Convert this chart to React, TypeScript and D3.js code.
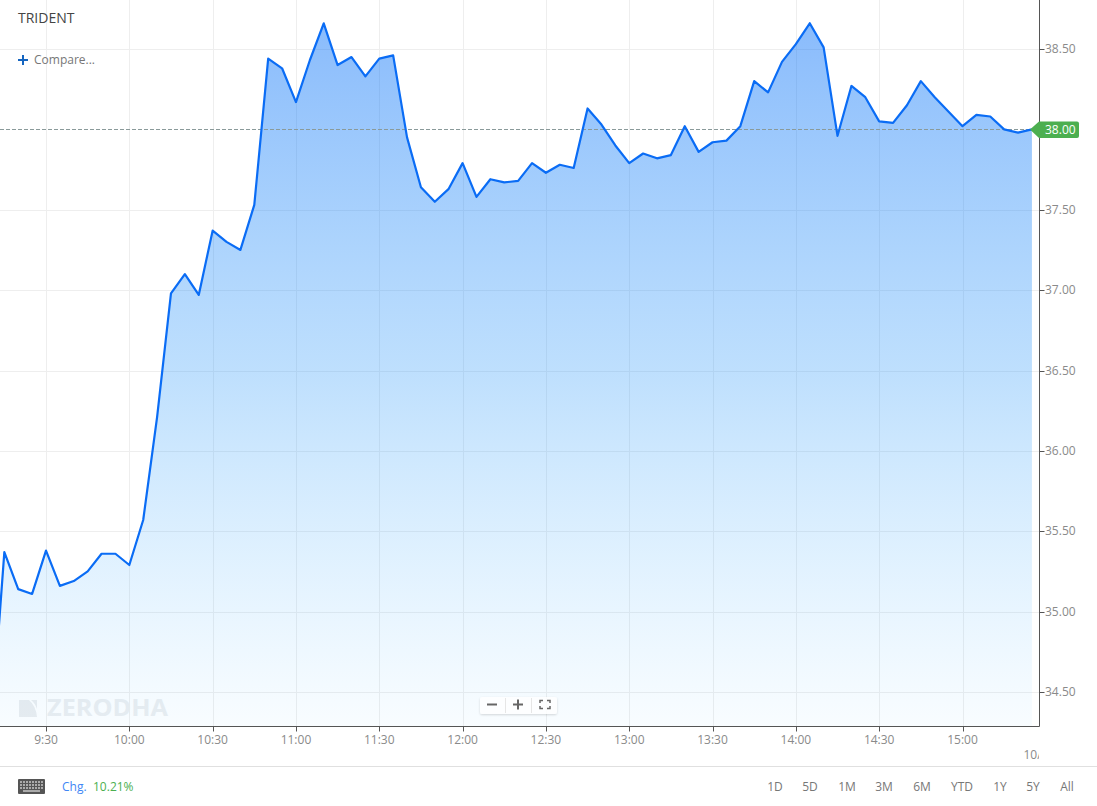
import React from "react";
import * as d3 from "d3";

const symbol = "TRIDENT";
const startMinute = 9 * 60 + 10; // first candle sits just off the left edge
const stepMinutes = 5;
const prices = [
  34.2, 35.37, 35.14, 35.11, 35.38, 35.16, 35.19, 35.25, 35.36, 35.36, 35.29,
  35.57, 36.21, 36.98, 37.1, 36.97, 37.37, 37.3, 37.25, 37.53, 38.44, 38.38,
  38.17, 38.43, 38.66, 38.4, 38.45, 38.33, 38.44, 38.46, 37.95, 37.64, 37.55,
  37.63, 37.79, 37.58, 37.69, 37.67, 37.68, 37.79, 37.73, 37.78, 37.76, 38.13,
  38.03, 37.9, 37.79, 37.85, 37.82, 37.84, 38.02, 37.86, 37.92, 37.93, 38.02,
  38.3, 38.23, 38.42, 38.53, 38.66, 38.51, 37.96, 38.27, 38.2, 38.05, 38.04,
  38.15, 38.3, 38.2, 38.11, 38.02, 38.09, 38.08, 38.0, 37.98, 38.0,
];
const priceTicks = [34.5, 35, 35.5, 36, 36.5, 37, 37.5, 38.5];
const timeTicks = [
  "9:30", "10:00", "10:30", "11:00", "11:30", "12:00", "12:30", "13:00",
  "13:30", "14:00", "14:30", "15:00",
];
const ranges = ["1D", "5D", "1M", "3M", "6M", "YTD", "1Y", "5Y", "All"];
const rangeX = [775, 810, 847, 884, 922, 962, 1000, 1033, 1067];
const lastPrice = 38.0;
const change = "10.21%";

const width = 1097;
const height = 806;
const plotRight = 1039.5;
const plotBottom = 726.5;
const font = "'Open Sans', sans-serif";
const tickColor = "#8a8a8a";
const gridColor = "#eeeeee";

const toMinutes = (t: string) => {
  const [h, m] = t.split(":").map(Number);
  return h * 60 + m;
};

const App: React.FC = () => {
  const x = d3
    .scaleLinear()
    .domain([toMinutes("9:30"), toMinutes("15:00")])
    .range([46, 962.5]);
  const y = d3.scaleLinear().domain([34.5, 38.5]).range([692, 49]);

  const series = prices.map((p, i) => ({
    t: startMinute + i * stepMinutes,
    p,
  }));

  const line = d3
    .line<{ t: number; p: number }>()
    .x((d) => x(d.t))
    .y((d) => y(d.p));
  const area = d3
    .area<{ t: number; p: number }>()
    .x((d) => x(d.t))
    .y0(plotBottom)
    .y1((d) => y(d.p));

  const lastX = x(series[series.length - 1].t);
  const lastY = Math.round(y(lastPrice)) + 0.5;

  return (
    <svg
      width={width}
      height={height}
      style={{ position: "absolute", left: 0, top: 0, fontFamily: font }}
    >
      <defs>
        <linearGradient
          id="areaFill"
          gradientUnits="userSpaceOnUse"
          x1={0}
          x2={0}
          y1={y(d3.max(prices) as number)}
          y2={plotBottom}
        >
          <stop offset="0" stopColor="rgb(0,108,248)" stopOpacity={0.46} />
          <stop offset="0.5" stopColor="rgb(40,150,250)" stopOpacity={0.3} />
          <stop offset="1" stopColor="rgb(90,190,255)" stopOpacity={0.04} />
        </linearGradient>
        <clipPath id="plot">
          <rect x={0} y={0} width={plotRight} height={plotBottom} />
        </clipPath>
        <clipPath id="dateClip">
          <rect x={1000} y={740} width={39} height={24} />
        </clipPath>
        <filter id="soft" x="-10%" y="-30%" width="120%" height="170%">
          <feDropShadow dx="0" dy="1" stdDeviation="1" floodColor="#000" floodOpacity="0.18" />
        </filter>
      </defs>

      {/* grid */}
      {timeTicks.map((t) => (
        <line
          key={t}
          x1={Math.round(x(toMinutes(t))) + 0.5}
          x2={Math.round(x(toMinutes(t))) + 0.5}
          y1={0}
          y2={plotBottom}
          stroke={gridColor}
        />
      ))}
      {priceTicks.map((p) => (
        <line
          key={p}
          x1={0}
          x2={plotRight}
          y1={Math.round(y(p)) + 0.5}
          y2={Math.round(y(p)) + 0.5}
          stroke={gridColor}
        />
      ))}

      {/* watermark */}
      <path d="M19 700 H29 Q36 706 37 717 H19 Z" fill="#ebedef" />
      <path d="M31 700 H37 V709 Q35 703 31 700 Z" fill="#ebedef" />
      <text
        x={47}
        y={716}
        fontSize={22.5}
        fontWeight={700}
        textLength={121}
        lengthAdjust="spacingAndGlyphs"
        fill="#eceef0"
      >
        ZERODHA
      </text>

      {/* price area and line */}
      <g clipPath="url(#plot)">
        <path d={area(series) as string} fill="url(#areaFill)" />
        <line
          x1={0}
          x2={lastX}
          y1={lastY}
          y2={lastY}
          stroke="#8a9a9a"
          strokeDasharray="4 2"
        />
        <path
          d={line(series) as string}
          fill="none"
          stroke="#0a6cf5"
          strokeWidth={2.2}
          strokeLinejoin="round"
        />
      </g>

      {/* axes */}
      <line x1={plotRight} x2={plotRight} y1={0} y2={plotBottom} stroke="#555" />
      <line x1={0} x2={plotRight} y1={plotBottom} y2={plotBottom} stroke="#555" />
      {priceTicks.map((p) => (
        <g key={p}>
          <line
            x1={plotRight}
            x2={plotRight + 5}
            y1={Math.round(y(p)) + 0.5}
            y2={Math.round(y(p)) + 0.5}
            stroke="#555"
          />
          <text x={1045} y={y(p) + 4} fontSize={12} fill={tickColor}>
            {p.toFixed(2)}
          </text>
        </g>
      ))}
      {timeTicks.map((t) => (
        <g key={t}>
          <line
            x1={Math.round(x(toMinutes(t))) + 0.5}
            x2={Math.round(x(toMinutes(t))) + 0.5}
            y1={plotBottom}
            y2={plotBottom + 5}
            stroke="#555"
          />
          <text
            x={x(toMinutes(t))}
            y={744}
            fontSize={12}
            fill={tickColor}
            textAnchor="middle"
          >
            {t}
          </text>
        </g>
      ))}
      <text x={1023.5} y={759} fontSize={12} fill={tickColor} clipPath="url(#dateClip)">
        10/05
      </text>

      {/* last price badge */}
      <path
        d={`M1030 ${lastY} L1039 121.5 H1077 Q1079 121.5 1079 123.5 V136 Q1079 138 1077 138 H1039 Z`}
        fill="#4caf50"
      />
      <text x={1045} y={134} fontSize={12} fill="#fff">
        {lastPrice.toFixed(2)}
      </text>

      {/* top left labels */}
      <text x={18} y={23} fontSize={14} fill="#444">
        {symbol}
      </text>
      <path d="M23 55 V65 M18 60 H28" stroke="#1565c0" strokeWidth={2} />
      <text x={34} y={64} fontSize={12} fill="#777">
        Compare...
      </text>

      {/* zoom buttons */}
      <rect x={480} y={697} width={77} height={17} rx={2} fill="#fff" opacity={0.85} filter="url(#soft)" />
      <line x1={505.5} x2={505.5} y1={698} y2={713} stroke="#e6e6e6" />
      <line x1={531.5} x2={531.5} y1={698} y2={713} stroke="#e6e6e6" />
      <path d="M487 704.5 H497" stroke="#666" strokeWidth={2} />
      <path d="M513 704.5 H523 M518 699.5 V709.5" stroke="#666" strokeWidth={2} />
      <path
        d="M540 703 V700.5 H543 M547 700.5 H550 V703 M550 706 V708.5 H547 M543 708.5 H540 V706"
        fill="none"
        stroke="#666"
        strokeWidth={1.5}
      />

      {/* footer */}
      <line x1={0} x2={width} y1={766.5} y2={766.5} stroke="#e0e0e0" />
      <rect x={18} y={779} width={27} height={15} rx={1} fill="#555" />
      {d3.range(3).map((row) =>
        d3.range(8).map((col) => (
          <rect
            key={`${row}-${col}`}
            x={20 + col * 3}
            y={781 + row * 3}
            width={2}
            height={2}
            fill="#aaa"
          />
        ))
      )}
      <rect x={23} y={790} width={17} height={2} fill="#aaa" />
      <text x={62} y={791} fontSize={12} fill="#3f87f5">
        Chg.
      </text>
      <text x={93} y={791} fontSize={12} fill="#4caf50">
        {change}
      </text>
      {ranges.map((r, i) => (
        <text
          key={r}
          x={rangeX[i]}
          y={791}
          fontSize={12}
          fill="#777"
          textAnchor="middle"
        >
          {r}
        </text>
      ))}
    </svg>
  );
};

export default App;
